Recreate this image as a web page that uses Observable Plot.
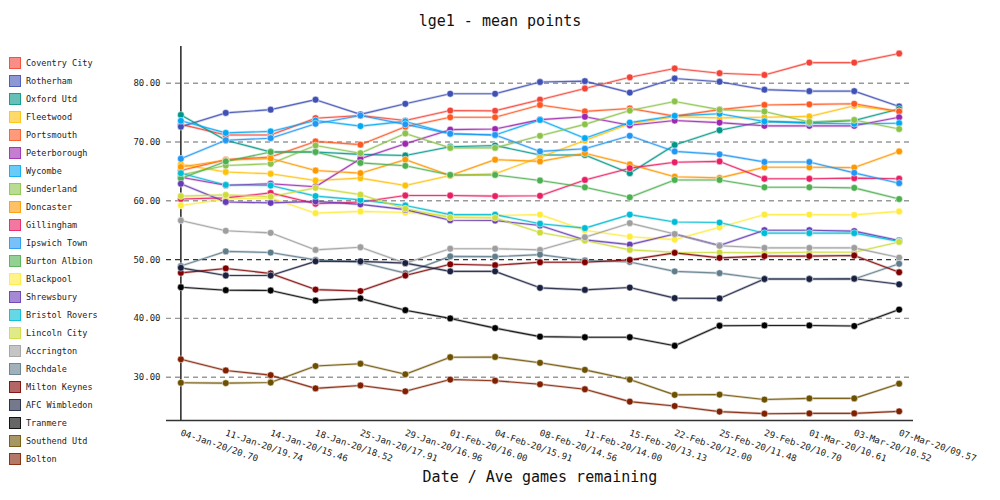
<!DOCTYPE html>
<html><head><meta charset="utf-8">
<script src="https://cdn.jsdelivr.net/npm/d3@7"></script>
<script src="https://cdn.jsdelivr.net/npm/@observablehq/plot@0.6"></script>
<style>
body{margin:0;background:#fff;font-family:"DejaVu Sans Mono",monospace;}
#wrap{position:relative;width:1000px;height:500px;overflow:hidden;}
#title{position:absolute;left:0;top:12px;width:1000px;text-align:center;font-size:15px;color:#111;}
#legend{position:absolute;left:9px;top:53.5px;font-size:8.5px;color:#222;}
.item{display:flex;align-items:center;height:18px;}
.sw{width:10px;height:10px;border:1.5px solid;margin-right:5px;box-sizing:content-box;}
</style></head>
<body><div id="wrap"><div id="chart"></div><div id="title">lge1 - mean points</div><div id="legend"></div></div>
<script>
const dates = ["04-Jan-20/20.70","11-Jan-20/19.74","14-Jan-20/15.46","18-Jan-20/18.52","25-Jan-20/17.91","29-Jan-20/16.96","01-Feb-20/16.00","04-Feb-20/15.91","08-Feb-20/14.56","11-Feb-20/14.00","15-Feb-20/13.13","22-Feb-20/12.00","25-Feb-20/11.48","29-Feb-20/10.70","01-Mar-20/10.61","03-Mar-20/10.52","07-Mar-20/09.57"];
const teams = ["Coventry City","Rotherham","Oxford Utd","Fleetwood","Portsmouth","Peterborough","Wycombe","Sunderland","Doncaster","Gillingham","Ipswich Town","Burton Albion","Blackpool","Shrewsbury","Bristol Rovers","Lincoln City","Accrington","Rochdale","Milton Keynes","AFC Wimbledon","Tranmere","Southend Utd","Bolton"];
const colors = ["#F44336","#3F51B5","#009688","#FFC107","#FF5722","#9C27B0","#03A9F4","#8BC34A","#FF9800","#E91E63","#2196F3","#4CAF50","#FFEB3B","#673AB7","#00BCD4","#CDDC39","#9E9E9E","#607D8B","#800000","#1a2040","#000000","#6d5100","#802000"];
const yTicks = [30, 40, 50, 60, 70, 80];

const coventry     = [73.0,71.2,71.2,74.05,74.5,73.65,75.35,75.3,77.2,79.1,81.0,82.5,81.7,81.4,83.5,83.5,85.05];
const rotherham    = [72.6,74.95,75.5,77.2,74.7,76.5,78.2,78.2,80.2,80.35,78.4,80.8,80.25,78.9,78.65,78.65,76.05];
const oxford       = [74.6,70.3,68.3,68.3,67.9,67.7,69.2,69.4,67.8,67.8,64.7,69.5,72.0,73.5,73.3,73.65,75.6];
const fleetwood    = [66.2,64.9,64.6,63.45,63.85,62.6,64.3,64.6,67.4,70.25,73.1,74.3,74.1,74.2,74.35,76.15,75.2];
const portsmouth   = [65.15,67.0,67.45,70.1,69.55,72.6,74.2,74.2,76.3,75.2,75.7,74.4,75.5,76.3,76.4,76.5,75.2];
const peterborough = [64.0,62.65,62.9,62.4,67.15,69.7,72.1,72.2,73.8,74.3,72.85,73.65,73.3,72.75,72.75,72.75,74.2];
const wycombe      = [73.6,71.55,71.8,73.65,72.7,73.5,71.4,71.2,73.75,70.65,73.3,74.45,74.8,73.5,73.2,73.1,73.2];
const sunderland   = [64.4,66.0,66.3,69.4,68.1,71.45,69.0,69.0,71.05,73.0,75.35,76.9,75.5,75.2,73.4,73.75,72.2];
const doncaster    = [65.75,66.9,67.2,65.15,64.7,67.0,64.3,67.0,66.7,68.1,66.2,64.1,63.9,65.7,65.7,65.65,68.4];
const gillingham   = [60.3,60.5,61.35,59.5,59.8,60.9,60.9,60.8,60.85,63.55,65.55,66.55,66.7,63.75,63.75,63.85,63.75];
const ipswich      = [67.15,70.3,70.65,73.1,74.5,73.0,71.4,71.2,68.4,68.85,71.05,68.4,67.9,66.6,66.6,64.75,63.0];
const burton       = [63.8,66.7,68.3,68.3,66.45,65.95,64.4,64.4,63.45,62.3,60.6,63.55,63.55,62.3,62.3,62.2,60.3];
const blackpool    = [59.2,60.3,60.5,57.9,58.2,58.0,57.4,57.5,57.65,55.0,53.9,53.4,55.5,57.65,57.65,57.6,58.2];
const shrewsbury   = [62.9,59.8,59.65,59.9,59.4,58.5,56.7,56.65,55.8,53.35,52.55,54.35,52.4,55.0,55.0,54.85,53.25];
const bristol      = [64.7,62.7,62.6,60.8,60.15,59.2,57.65,57.65,56.1,55.35,57.65,56.4,56.3,54.5,54.5,54.5,53.1];
const lincoln      = [60.8,61.0,60.7,62.2,61.05,58.65,57.15,57.1,54.6,53.25,51.65,51.25,51.2,51.15,51.25,51.25,53.0];
const accrington   = [56.65,54.9,54.55,51.65,52.1,49.4,51.85,51.85,51.65,53.8,56.2,54.35,52.35,52.0,52.0,52.0,50.35];
const rochdale     = [48.9,51.4,51.2,49.95,49.55,47.7,50.55,50.5,50.85,49.85,49.6,48.0,47.7,46.7,46.7,46.7,49.3];
const miltonKeynes = [47.75,48.5,47.65,44.9,44.65,47.3,49.2,49.05,49.55,49.55,49.95,51.15,50.3,50.6,50.6,50.7,47.85];
const wimbledon    = [48.6,47.3,47.3,49.7,49.7,49.4,48.0,48.0,45.2,44.85,45.25,43.45,43.4,46.7,46.7,46.75,45.8];
const tranmere     = [45.3,44.8,44.75,43.05,43.4,41.4,40.0,38.35,36.9,36.8,36.8,35.35,38.75,38.8,38.8,38.7,41.5];
const southend     = [29.05,29.0,29.1,31.9,32.3,30.5,33.4,33.45,32.45,31.25,29.6,27.0,27.05,26.2,26.4,26.4,28.9];
const bolton       = [33.05,31.15,30.35,28.1,28.6,27.6,29.6,29.4,28.8,27.95,25.85,25.1,24.15,23.8,23.85,23.85,24.2];

const series = [coventry,rotherham,oxford,fleetwood,portsmouth,peterborough,wycombe,sunderland,doncaster,gillingham,ipswich,burton,blackpool,shrewsbury,bristol,lincoln,accrington,rochdale,miltonKeynes,wimbledon,tranmere,southend,bolton];

const data = [];
teams.forEach((t, k) => series[k].forEach((v, i) => data.push({team: t, date: dates[i], value: v})));

const yMin = 22.64, yMax = 86.24;
const chart = Plot.plot({
  width: 1000, height: 500,
  marginLeft: 166, marginRight: 87, marginTop: 46, marginBottom: 80,
  style: {fontFamily: "DejaVu Sans Mono, monospace", fontSize: "9px", background: "white", color: "#222"},
  x: {type: "point", domain: dates, padding: 0.32, round: false, label: null},
  y: {domain: [yMin, yMax], label: null},
  color: {domain: teams, range: colors},
  marks: [
    Plot.ruleY(yTicks.filter(d => d !== 50), {stroke: "#999", strokeDasharray: "5,4", strokeWidth: 1.4}),
    Plot.ruleY([50], {stroke: "#333", strokeDasharray: "5,4", strokeWidth: 1.4}),
    Plot.ruleX([dates[0]], {stroke: "#222", strokeWidth: 1.5}),
    Plot.ruleY([yMin], {stroke: "#333", strokeWidth: 1.5}),
    Plot.line(data, {x: "date", y: "value", z: "team", stroke: "team", strokeWidth: 2.6, strokeOpacity: 0.25}),
    Plot.line(data, {x: "date", y: "value", z: "team", stroke: "team", strokeWidth: 1.1, strokeOpacity: 0.85}),
    Plot.dot(data, {x: "date", y: "value", fill: "team", r: 3.4, stroke: "white", strokeOpacity: 0.5, strokeWidth: 1}),
    Plot.axisY(yTicks, {tickSize: 0, tickPadding: 6, tickFormat: d3.format(".2f"), fontSize: 9, label: null}),
    Plot.axisX({tickSize: 0, tickPadding: 12, tickRotate: 19, fontSize: 9, label: null}),
    Plot.text(["Date / Ave games remaining"], {frameAnchor: "bottom", dy: 61, fontSize: 15, fill: "#111"})
  ]
});
document.getElementById("chart").appendChild(chart);

const legend = document.getElementById("legend");
teams.forEach((t, k) => {
  const row = document.createElement("div");
  row.className = "item";
  const sw = document.createElement("div");
  sw.className = "sw";
  const c = d3.color(colors[k]);
  sw.style.borderColor = c.copy({opacity: 0.8}).formatRgb();
  sw.style.background = c.copy({opacity: 0.6}).formatRgb();
  const label = document.createElement("span");
  label.textContent = t;
  row.appendChild(sw); row.appendChild(label);
  legend.appendChild(row);
});
</script></body></html>
